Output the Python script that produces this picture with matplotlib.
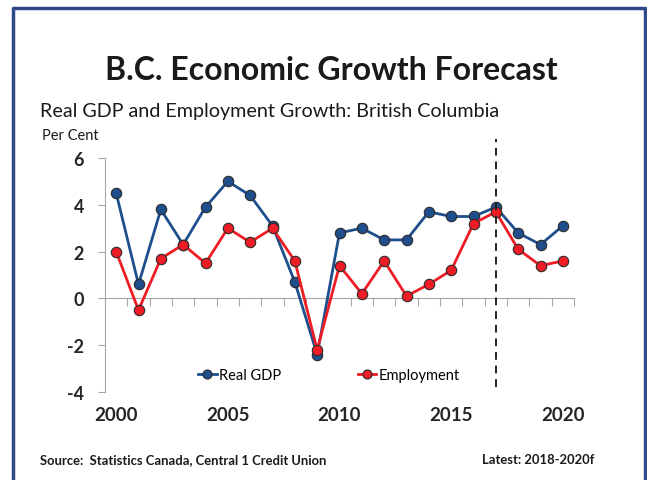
#!/usr/bin/env python3
"""
B.C. economic growth forecast: real GDP and employment growth, 2000-2020f.
"""

import matplotlib
matplotlib.use("Agg")
import matplotlib.pyplot as plt
from matplotlib.lines import Line2D
import numpy as np

years = list(range(2000, 2021))
real_gdp = [4.5, 0.6, 3.8, 2.3, 3.9, 5.0, 4.4, 3.1, 0.7, -2.4, 2.8,
            3.0, 2.5, 2.5, 3.7, 3.5, 3.5, 3.9, 2.8, 2.3, 3.1]
employment = [2.0, -0.5, 1.7, 2.3, 1.5, 3.0, 2.4, 3.0, 1.6, -2.2, 1.4,
              0.2, 1.6, 0.1, 0.6, 1.2, 3.2, 3.7, 2.1, 1.4, 1.6]
year_labels = ["2000", "2005", "2010", "2015", "2020"]
y_ticks = [-4, -2, 0, 2, 4, 6]
forecast_start = 2017

plt.rcParams["font.family"] = ["Lato", "DejaVu Sans"]

W, H = 647, 481
fig = plt.figure(figsize=(W / 100, H / 100), dpi=100)
ax = fig.add_axes([105 / W, 1 - 393 / H, 469 / W, 234 / H])

x = np.arange(len(years))
gdp_col = "#1F4E8C"
emp_col = "#EE1C25"
ax.plot(x, real_gdp, color=gdp_col, lw=2, marker="o", ms=7.5,
        mfc=gdp_col, mec="#2B2B2B", mew=0.8, zorder=3)
ax.plot(x, employment, color=emp_col, lw=2, marker="o", ms=7.5,
        mfc=emp_col, mec="#2B2B2B", mew=0.8, zorder=4)

# forecast divider
fx = years.index(forecast_start)
ax.plot([fx, fx], [-3.8, 6.8], color="#222222", lw=1.4, ls=(0, (4, 3)),
        clip_on=False, zorder=5)

ax.set_xlim(-0.5, len(years) - 0.5)
ax.set_ylim(-4, 6)
for s in ["top", "right"]:
    ax.spines[s].set_visible(False)
ax.spines["bottom"].set_position(("data", 0))
ax.spines["bottom"].set_color("#A6A6A6")
ax.spines["left"].set_color("#A6A6A6")
ax.set_xticks(np.arange(-0.5, len(years) + 0.5, 1.0))
ax.set_xticklabels([])
ax.tick_params(axis="x", direction="out", length=6, color="#A6A6A6")
ax.set_yticks(y_ticks)
ax.set_yticklabels([str(v) for v in y_ticks], fontsize=13,
                   fontweight="bold", color="#262626")
ax.tick_params(axis="y", direction="out", length=5, color="#A6A6A6", pad=10)

for lab in year_labels:
    ax.text(years.index(int(lab)), -4.95, lab, ha="center", va="center",
            fontsize=13.5, fontweight="bold", color="#262626",
            transform=ax.transData)

handles = [
    Line2D([], [], color=gdp_col, lw=2, marker="o", ms=6.5, mfc=gdp_col,
           mec="#2B2B2B", mew=0.8),
    Line2D([], [], color=emp_col, lw=2, marker="o", ms=6.5, mfc=emp_col,
           mec="#2B2B2B", mew=0.8),
]
ax.legend(handles, ["Real GDP", "Employment"], ncol=2, frameon=False,
          loc="center", bbox_to_anchor=(329 / W, 1 - 376 / H),
          bbox_transform=fig.transFigure, fontsize=10.5,
          handlelength=1.25, handletextpad=0.15, columnspacing=5.3)

fig.text(331 / W, 1 - 70 / H, "B.C. Economic Growth Forecast", ha="center",
         va="center", fontsize=23, fontweight="bold", color="#1A1A1A")
fig.text(40 / W, 1 - 111 / H, "Real GDP and Employment Growth: British Columbia",
         ha="left", va="center", fontsize=14.2, color="#1A1A1A")
fig.text(42 / W, 1 - 136 / H, "Per Cent", ha="left", va="center",
         fontsize=10.5, color="#1A1A1A")
fig.text(40 / W, 1 - 460 / H, "Source:  Statistics Canada, Central 1 Credit Union",
         ha="left", va="center", fontsize=9.4, fontweight="bold", color="#1A1A1A")
fig.text(594 / W, 1 - 460 / H, "Latest: 2018-2020f", ha="right", va="center",
         fontsize=9.4, fontweight="bold", color="#1A1A1A")

# open-bottom frame
frame_col = "#2F4A8A"
fx0, fx1, fy = 13 / W, 645 / W, 1 - 9 / H
fig.add_artist(Line2D([fx0, fx0, fx1, fx1], [0, fy, fy, 0], color=frame_col,
                      lw=2.5, transform=fig.transFigure))

fig.savefig("out.png", dpi=100)
